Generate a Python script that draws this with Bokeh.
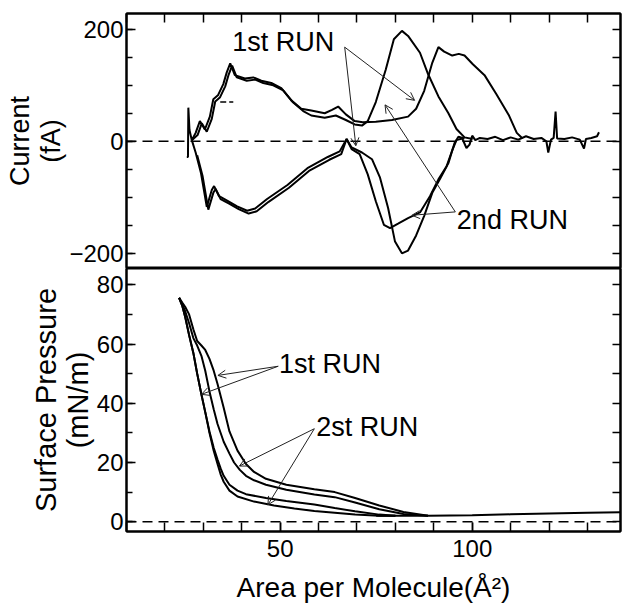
from bokeh.plotting import figure
from bokeh.layouts import column
from bokeh.models import FixedTicker, LinearAxis, Span, Arrow, OpenHead, Label, Range1d
from bokeh.embed import file_html
from bokeh.resources import INLINE

FONT = "Liberation Sans"

# ---------------- Current (fA) vs area per molecule ----------------
# 1st run, positive (compression) branch
run1_pos_x = [25.7, 26.0, 26.1, 26.4, 27.0, 28.0, 29.1, 30.4, 31.7, 32.6, 33.8, 35.2, 36.1, 37.0, 38.2,
              40.8, 43.0, 45.1, 47.7, 50.3, 52.9, 55.5, 58.1, 61.6, 63.5, 65.1, 67.1, 69.4, 71.5, 74.9,
              79.1, 83.3, 85.4, 87.5, 89.6, 91.2, 92.7, 94.8, 96.5, 98.0, 100.1, 103.2, 106.3, 109.5,
              111.6, 113.1]
run1_pos_y = [-28, -28, 60, 20, 2, 15, 36, 21, 44, 75, 82, 102, 123, 139, 118,
              112, 114, 108, 104, 95, 73, 58, 55, 50, 56, 62, 48, 36, 34, 35,
              38, 44, 58, 90, 140, 168, 160, 153, 156, 153, 138, 118, 84, 47,
              15, 5]
# 2nd run, positive branch
run2_pos_x = [27.0, 28.5, 29.6, 30.9, 32.2, 33.1, 34.3, 35.7, 36.6, 37.5, 38.7, 41.3, 43.5, 45.6, 48.2,
              50.8, 53.4, 56.0, 58.1, 61.6, 64.5, 67.1, 69.4, 71.3, 72.8, 74.9, 77.5, 79.6, 81.7,
              83.3, 86.4, 88.5, 91.2, 93.8, 95.9, 98.0, 100.1]
run2_pos_y = [2, 11, 32, 17, 40, 71, 78, 98, 119, 135, 114, 108, 110, 104, 100,
              91, 69, 54, 46, 42, 46, 38, 30, 28, 36, 70, 128, 182, 197,
              188, 158, 120, 80, 50, 22, 7, 4]
# 1st run, negative (expansion) branch
run1_neg_x = [27.0, 28.0, 29.4, 30.9, 32.2, 32.8, 34.1, 36.2, 38.8, 41.4, 43.5, 46.6, 51.9, 57.1, 62.4,
              65.5, 67.3, 68.6, 71.3, 73.9, 76.0, 78.1, 79.9, 81.7, 83.3, 85.4, 87.5, 89.6, 91.7,
              93.8, 95.4, 96.4, 98.0]
run1_neg_y = [2, -20, -57, -117, -87, -80, -98, -106, -116, -124, -120, -103, -78, -48, -28,
              -18, 4, -11, -20, -32, -65, -119, -179, -200, -195, -168, -133, -92, -66,
              -39, -3, 8, 5]
# 2nd run, negative branch
run2_neg_x = [28.4, 29.8, 31.3, 32.6, 33.2, 34.5, 36.6, 39.2, 41.8, 43.9, 47.0, 52.3, 57.5, 62.8, 65.9,
              67.3, 68.6, 70.7, 72.8, 74.9, 77.0, 78.6, 80.7, 83.3, 86.4, 89.0, 91.2, 93.3, 94.8,
              95.9, 97.4]
run2_neg_y = [-25, -62, -122, -92, -85, -103, -111, -121, -129, -125, -108, -83, -53, -33, -23,
              4, -14, -23, -59, -107, -149, -155, -147, -137, -127, -98, -68, -45, -16,
              2, 5]
# common baseline after the transitions
base_cur_x = [97.4, 98.5, 99.3, 100.0, 100.8, 102, 104, 106, 108, 110, 112, 114, 116, 118, 119.3,
              119.8, 120.5, 121.2, 121.7, 122.1, 124, 126, 128, 129.1, 129.6, 131, 132.5, 133.0]
base_cur_y = [5, -12, -6, 10, 2, 6, 4, 8, 2, 7, 3, 9, 4, 6, 0,
              -20, 3, 6, 53, 5, 4, 7, 3, -13, 4, 6, 9, 16]
stray_x = [34.4, 37.8]
stray_y = [70, 70]

# ---------------- Surface pressure (mN/m) vs area per molecule ----------------
L1_x = [23.7, 24.5, 25.3, 26.3, 27.4, 28.4, 29.5, 30.5, 31.6, 32.7, 33.7, 34.5, 35.3, 36.8, 38.9,
        43.2, 48.4, 53.7, 58.9, 64.2, 69.5, 75.8, 80.0]
L1_y = [75.6, 73, 69, 63, 57, 50, 43, 37, 30, 24, 19.5, 16, 13.5, 10.5, 8.5,
        6.8, 5.5, 4.5, 3.6, 3, 2.4, 2, 2]
L2_x = [23.7, 24.5, 25.3, 26.3, 27.4, 28.4, 29.5, 30.5, 31.6, 32.7, 33.7, 34.5, 35.3, 36.8, 38.9,
        41.1, 46.3, 51.6, 58.9, 64.2, 69.5, 75.8, 80.0]
L2_y = [75.6, 73, 69, 63, 57, 50, 43, 37, 30.5, 25, 21, 18, 15.5, 12.5, 10.5,
        9.3, 8, 7, 5.8, 4.6, 3.5, 2.4, 2]
M_x = [23.7, 24.5, 25.3, 26.3, 27.4, 28.4, 29.5, 30.5, 31.6, 32.7, 33.7, 35.3, 36.8, 38.0, 39.5,
       41.1, 43.2, 46.3, 51.6, 58.9, 64.2, 69.5, 75.8, 82.1, 88.5]
M_y = [75.6, 73.5, 71, 67, 62, 59.5, 56, 51, 44, 38, 33, 27, 23, 20, 17.5,
       15.5, 14, 12.5, 10.8, 9.2, 8.3, 6.5, 4.2, 2.6, 2]
O_x = [23.7, 24.5, 25.3, 26.3, 27.4, 28.4, 29.5, 30.5, 31.6, 32.7, 33.7, 35.3, 36.8, 38.9, 41.1,
       43.2, 46.3, 51.6, 58.9, 64.2, 69.5, 75.8, 82.1, 88.5]
O_y = [75.6, 74, 72.5, 70, 65, 61, 59.5, 58, 55, 51, 46.5, 38.5, 30.5, 24, 19.5,
       16.8, 14.5, 12.5, 11, 10, 8, 5.5, 3.3, 2]
base_sp_x = [75.0, 88.5, 100, 110, 120, 130, 138.6]
base_sp_y = [2.0, 2.0, 2.2, 2.5, 2.8, 3.0, 3.2]

# ---------------- annotation positions (data units) ----------------
cur_lab1 = (37.5, 177)
cur_lab1_from = (66.8, 168)
cur_lab1_to = [(69.7, -8), (85.0, 73)]
cur_lab2 = (96.0, -140)
cur_lab2_from = (95.6, -126)
cur_lab2_to = [(77.3, 65), (84.3, -132)]

sp_lab1 = (49.7, 53.3)
sp_lab1_from = (49.5, 52.5)
sp_lab1_to = [(33.8, 49.4), (29.5, 43.0)]
sp_lab2 = (59.4, 32.1)
sp_lab2_from = (58.9, 31.4)
sp_lab2_to = [(39.4, 18.8), (46.8, 5.7)]

# ---------------- ticks ----------------
x_ticks_major = [50, 100]
x_ticks_minor = list(range(10, 131, 10))
cur_ticks = [-200, 0, 200]
cur_ticks_minor = list(range(-200, 201, 50))
sp_ticks = [0, 20, 40, 60, 80]
sp_ticks_minor = list(range(0, 81, 10))

X_RANGE = Range1d(10, 138.6)
LW = 2
TICK_FS = "24px"


def style_axis(ax, label_fs="26px"):
    ax.axis_line_width = 2
    ax.axis_line_color = "black"
    ax.major_tick_in = 9
    ax.major_tick_out = 0
    ax.minor_tick_in = 6
    ax.minor_tick_out = 0
    ax.major_tick_line_width = 1.5
    ax.minor_tick_line_width = 1.5
    ax.major_label_text_font = FONT
    ax.major_label_text_font_size = TICK_FS
    ax.major_label_text_color = "black"
    ax.major_label_standoff = 3
    ax.axis_label_text_font = FONT
    ax.axis_label_text_font_size = label_fs
    ax.axis_label_text_font_style = "normal"
    ax.axis_label_text_color = "black"
    ax.axis_label_standoff = 0


def tick_only_axis(ticks, length=8):
    ax = LinearAxis(ticker=FixedTicker(ticks=[], minor_ticks=ticks))
    style_axis(ax)
    ax.minor_tick_in = length
    return ax


def base_fig(height, y_range, **kw):
    p = figure(frame_width=494, frame_height=height, x_range=X_RANGE, y_range=y_range,
               output_backend="svg", toolbar_location=None,
               min_border_left=126, min_border_right=5, **kw)
    p.grid.visible = False
    p.outline_line_color = "black"
    p.outline_line_width = 2
    p.background_fill_color = "white"
    p.border_fill_color = "white"
    return p


def add_arrows(p, origin, targets):
    x0, y0 = origin
    for (x1, y1) in targets:
        p.add_layout(Arrow(end=OpenHead(size=8, line_width=1, line_color="#222"),
                           x_start=x0, y_start=y0, x_end=x1, y_end=y1,
                           line_width=1, line_color="#222"))


def add_text(p, pos, txt):
    p.add_layout(Label(x=pos[0], y=pos[1], text=txt, text_font=FONT, text_font_size="27px",
                       text_baseline="middle", text_align="left", text_color="black"))


# ---- top panel: current ----
top = base_fig(255, Range1d(-227, 228), x_axis_location=None, min_border_top=13, min_border_bottom=0)
top.yaxis.ticker = FixedTicker(ticks=cur_ticks, minor_ticks=cur_ticks_minor)
top.yaxis.major_label_overrides = {-200: "\u2212200"}
style_axis(top.yaxis[0], "27px")
top.yaxis.axis_label = "Current\n(fA)"
top.yaxis.axis_label_text_line_height = 1.05
top.add_layout(tick_only_axis(x_ticks_minor, 9), "above")
top.add_layout(tick_only_axis(cur_ticks_minor, 8), "right")

top.add_layout(Span(location=0, dimension="width", line_color="black", line_width=1.5, line_dash="10 6"))

for xs, ys in [(run1_pos_x, run1_pos_y), (run2_pos_x, run2_pos_y),
               (run1_neg_x, run1_neg_y), (run2_neg_x, run2_neg_y),
               (base_cur_x, base_cur_y)]:
    top.line(xs, ys, line_color="black", line_width=LW)
top.line(stray_x, stray_y, line_color="black", line_width=1.5, line_dash="6 3")

add_text(top, cur_lab1, "1st RUN")
add_text(top, cur_lab2, "2nd RUN")
add_arrows(top, cur_lab1_from, cur_lab1_to)
add_arrows(top, cur_lab2_from, cur_lab2_to)

# ---- bottom panel: surface pressure ----
bot = base_fig(263, Range1d(-3.3, 85.5), min_border_top=0, min_border_bottom=79)
bot.xaxis.ticker = FixedTicker(ticks=x_ticks_major, minor_ticks=x_ticks_minor)
style_axis(bot.xaxis[0], "28px")
bot.xaxis.minor_tick_in = 9
bot.xaxis.major_label_standoff = 8
bot.xaxis.axis_label_standoff = 12
bot.xaxis.axis_label = "Area per Molecule(\u00c5\u00b2)"
bot.yaxis.ticker = FixedTicker(ticks=sp_ticks, minor_ticks=sp_ticks_minor)
style_axis(bot.yaxis[0], "29px")
bot.yaxis.axis_label = "Surface Pressure\n(mN/m)"
bot.yaxis.axis_label_text_line_height = 1.0
bot.add_layout(tick_only_axis(sp_ticks_minor, 8), "right")

bot.add_layout(Span(location=0, dimension="width", line_color="black", line_width=1.5, line_dash="10 6"))

for xs, ys in [(L1_x, L1_y), (L2_x, L2_y), (M_x, M_y), (O_x, O_y), (base_sp_x, base_sp_y)]:
    bot.line(xs, ys, line_color="black", line_width=LW)

add_text(bot, sp_lab1, "1st RUN")
add_text(bot, sp_lab2, "2st RUN")
add_arrows(bot, sp_lab1_from, sp_lab1_to)
add_arrows(bot, sp_lab2_from, sp_lab2_to)

layout = column(top, bot, spacing=0)
open("out.html", "w").write(file_html(layout, INLINE))
